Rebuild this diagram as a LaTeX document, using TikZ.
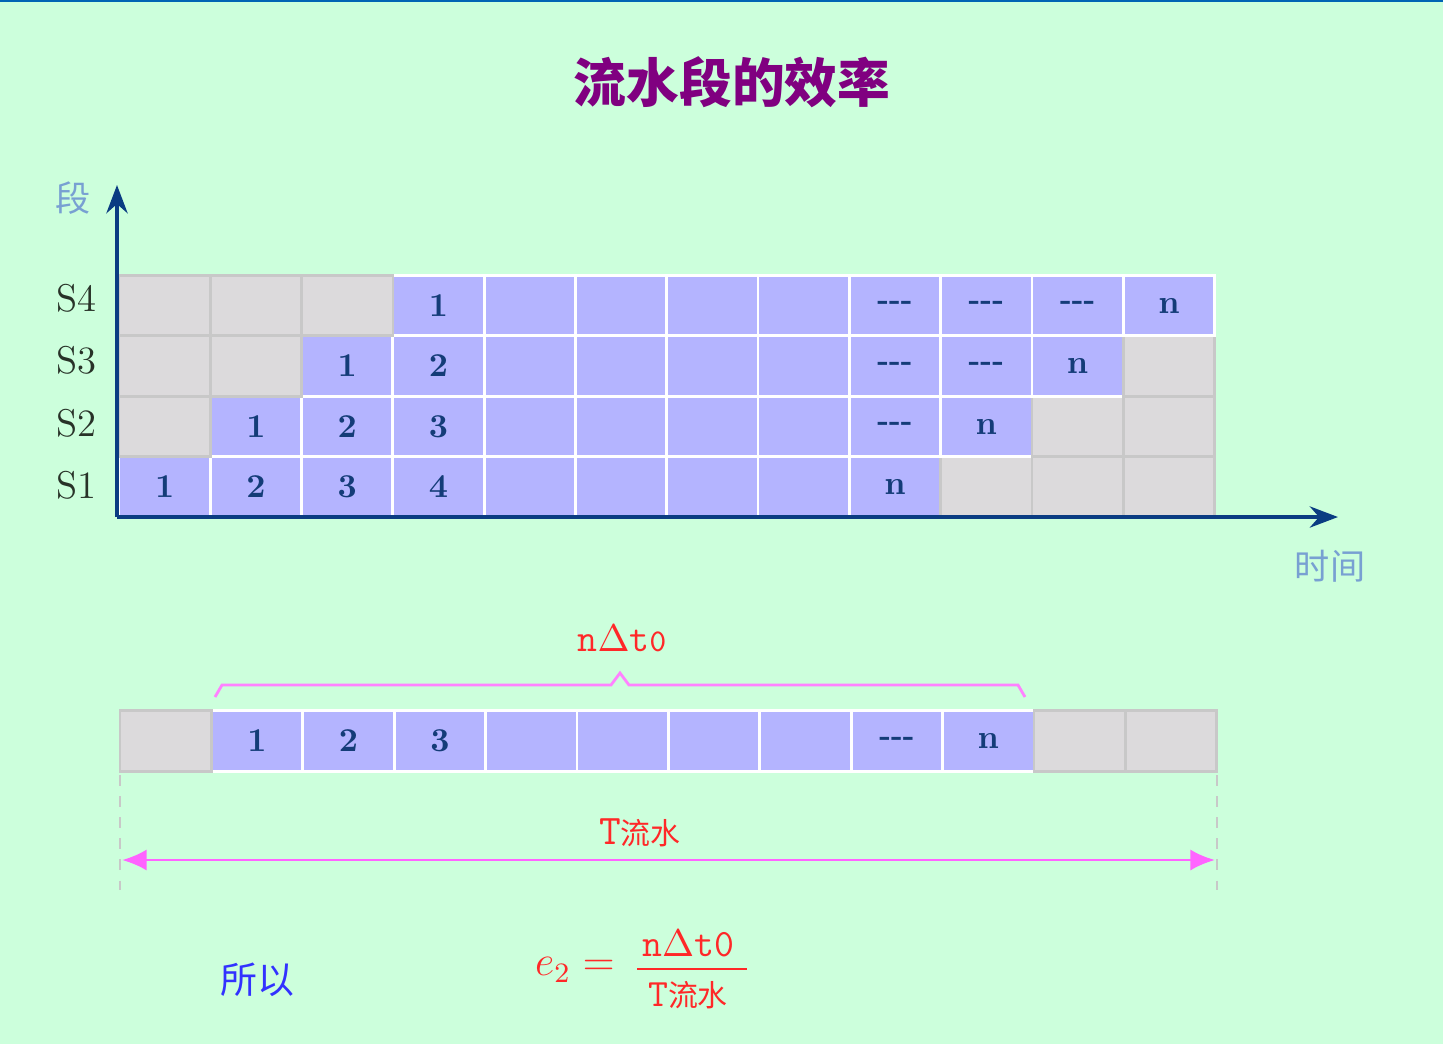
\documentclass[tikz,border=0pt]{standalone}
\usepackage{fontspec}
\newfontfamily\cjk{Noto Sans CJK SC}
\usetikzlibrary{arrows.meta}
\usetikzlibrary{positioning}
\definecolor{bgreen}{RGB}{204,255,220}
\definecolor{topblue}{RGB}{0,100,180}
\definecolor{cellpurple}{RGB}{180,180,255}
\definecolor{cellgray}{RGB}{220,218,220}
\definecolor{cellline}{RGB}{200,200,200}
\definecolor{numblue}{RGB}{20,60,120}
\definecolor{axisblue}{RGB}{10,60,130}
\definecolor{axislabel}{RGB}{120,160,210}
\definecolor{titlepurple}{RGB}{128,0,128}
\definecolor{slabel}{RGB}{40,50,40}
\definecolor{bracepink}{RGB}{255,130,255}
\definecolor{arrowpink}{RGB}{255,100,255}
\definecolor{textred}{RGB}{255,40,40}
\definecolor{soblue}{RGB}{50,50,255}
\newcommand{\threedash}{{\fontsize{8.5}{10}\selectfont -{}-{}-}}

\begin{document}
\begin{tikzpicture}[x=0.01cm,y=-0.01cm,
    pcell/.style={rectangle,draw=white,line width=0.8pt,fill=cellpurple,
      minimum width=0.913cm,minimum height=0.605cm,inner sep=0pt,
      font=\fontsize{9.5}{11}\selectfont\bfseries,text=numblue},
    gcell/.style={rectangle,draw=cellline,line width=0.8pt,fill=cellgray,
      minimum width=0.913cm,minimum height=0.605cm,inner sep=0pt},
    axis/.style={draw=axisblue,line width=1.2pt,-{Stealth[length=8pt,width=6pt]}},
    redtext/.style={text=textred,font=\ttfamily\fontsize{11}{13}\selectfont}]
    % background
    \fill[bgreen] (0,0) rectangle (1443,1044);
    \fill[topblue] (0,0) rectangle (1443,2);
    \useasboundingbox (0,0) rectangle (1443,1044);

    \node[font=\cjk\bfseries\fontsize{15}{18}\selectfont,text=titlepurple] (title) at (732,82) {流水段的效率};

    % stage rows
    \foreach \c/\t in {1/1,2/2,3/3,4/4,5/{},6/{},7/{},8/{},9/n}
      \node[pcell] (s1-\c) at ({119+91.3*(\c-0.5)},487) {\t};
    \foreach \c in {10,11,12}
      \node[gcell] (s1-\c) at ({119+91.3*(\c-0.5)},487) {};
    \foreach \c/\t in {2/1,3/2,4/3,5/{},6/{},7/{},8/{},9/\threedash,10/n}
      \node[pcell] (s2-\c) at ({119+91.3*(\c-0.5)},426.5) {\t};
    \foreach \c in {1,11,12}
      \node[gcell] (s2-\c) at ({119+91.3*(\c-0.5)},426.5) {};
    \foreach \c/\t in {3/1,4/2,5/{},6/{},7/{},8/{},9/\threedash,10/\threedash,11/n}
      \node[pcell] (s3-\c) at ({119+91.3*(\c-0.5)},366) {\t};
    \foreach \c in {1,2,12}
      \node[gcell] (s3-\c) at ({119+91.3*(\c-0.5)},366) {};
    \foreach \c/\t in {4/1,5/{},6/{},7/{},8/{},9/\threedash,10/\threedash,11/\threedash,12/n}
      \node[pcell] (s4-\c) at ({119+91.3*(\c-0.5)},305.5) {\t};
    \foreach \c in {1,2,3}
      \node[gcell] (s4-\c) at ({119+91.3*(\c-0.5)},305.5) {};

    \begin{scope}[every node/.style={font=\fontsize{11}{13}\selectfont,text=slabel}]
    \node (l1) at (76,485) {S1};
    \node (l2) at (76,423) {S2};
    \node (l3) at (76,360) {S3};
    \node (l4) at (76,298) {S4};
    \end{scope}

    % axes
    \coordinate (O) at (117,517);
    \coordinate (xend) at (1338,517);
    \coordinate (yend) at (117,185);
    \draw[axis] (O) -- (xend);
    \draw[axis] (O) -- (yend);
    \node[font=\cjk\fontsize{10}{12}\selectfont,text=axislabel] (ylab) at (73,198) {段};
    \node[font=\cjk\fontsize{10}{12}\selectfont,text=axislabel] (xlab) at (1330,566) {时间};

    % single row
    \begin{scope}[every node/.append style={minimum width=0.914cm,minimum height=0.58cm}]
    \foreach \c/\t in {2/1,3/2,4/3,5/{},6/{},7/{},8/{},9/\threedash,10/n}
      \node[pcell] (b-\c) at ({120+91.4*(\c-0.5)},741) {\t};
    \foreach \c in {1,11,12}
      \node[gcell] (b-\c) at ({120+91.4*(\c-0.5)},741) {};
    \end{scope}

    % brace
    \draw[bracepink,line width=0.8pt] (215,697) -- (222,685) -- (611,685) -- (620,673)
      -- (629,685) -- (1018,685) -- (1025,697);
    \node[redtext] (ndt) at (622,638) {n$\Delta$t{\fontsize{9}{10}\selectfont 0}};

    % total time
    \coordinate (dl-top) at (120,775);
    \coordinate (dl-bot) at (120,890);
    \coordinate (dr-top) at (1217,775);
    \coordinate (dr-bot) at (1217,890);
    \draw[cellline,dashed,line width=0.5pt] (dl-top) -- (dl-bot);
    \draw[cellline,dashed,line width=0.5pt] (dr-top) -- (dr-bot);
    \coordinate (tl) at (122,860);
    \coordinate (tr) at (1215,860);
    \draw[arrowpink,line width=0.8pt,{Latex[length=7pt,width=6pt]}-{Latex[length=7pt,width=6pt]}] (tl) -- (tr);
    \node[redtext,font=\ttfamily\fontsize{12}{14}\selectfont] (tpipe) at (640,833) {T{\cjk\fontsize{8.5}{10}\selectfont 流水}};

    % formula
    \node[font=\cjk\fontsize{10.5}{12}\selectfont,text=soblue] (so) at (257,980) {所以};
    \node[text=textred,font=\fontsize{12}{14}\selectfont] (e2) at (575,970) {$e_2=$};
    \node[redtext] (num) at (688,944) {n$\Delta$t0};
    \node[redtext] (den) at (688,995) {T{\cjk\fontsize{8.5}{10}\selectfont 流水}};
    \coordinate (fl) at (637,969);
    \coordinate (fr) at (747,969);
    \draw[textred,line width=0.8pt] (fl) -- (fr);
\end{tikzpicture}
\end{document}
